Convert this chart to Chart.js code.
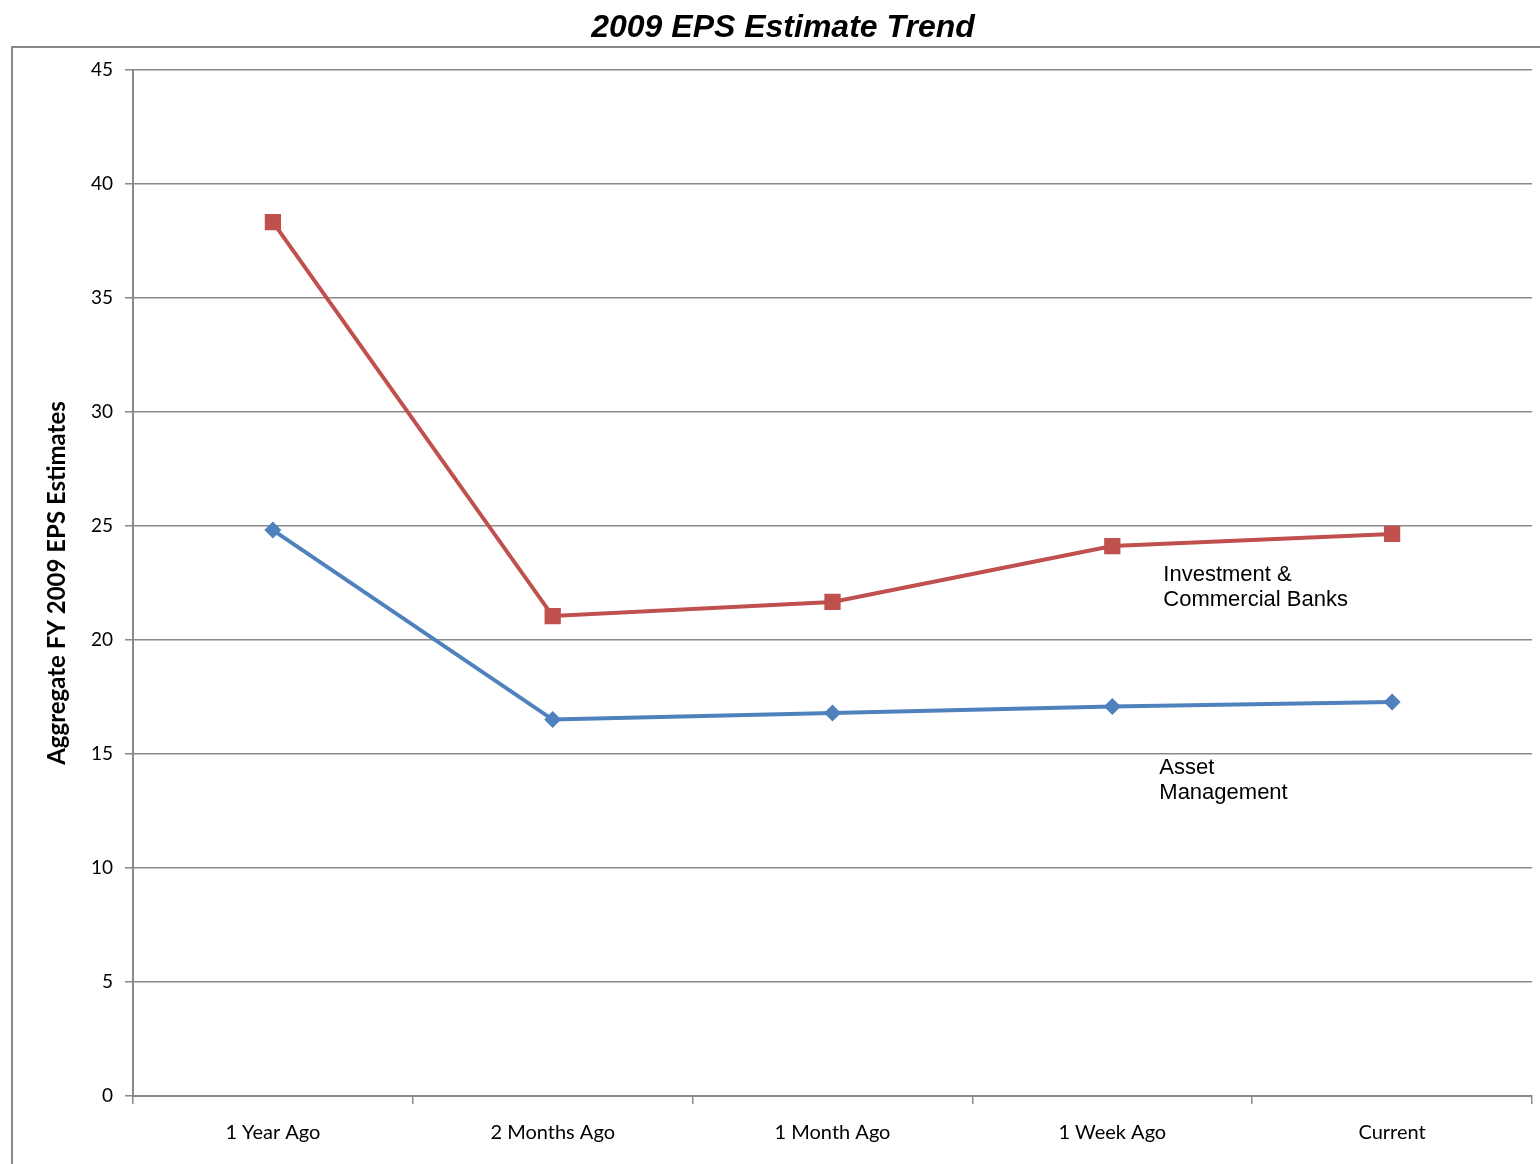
<!DOCTYPE html>
<html lang="en">
<head>
    <meta charset="UTF-8">
    <title>2009 EPS Estimate Trend</title>
    <style>
        html, body { margin: 0; padding: 0; background: #fff; }
        #wrap { width: 1540px; height: 1164px; position: relative; }
    </style>
</head>
<body>
    <div id="wrap">
        <canvas id="epsChart" width="1540" height="1164"></canvas>
    </div>
    <script src="https://cdn.jsdelivr.net/npm/chart.js@4.4.1/dist/chart.umd.min.js"></script>
    <script>
        // chart data
        var periods = ["1 Year Ago", "2 Months Ago", "1 Month Ago", "1 Week Ago", "Current"];
        var bankEps = [38.33, 21.05, 21.67, 24.12, 24.65];
        var assetEps = [24.82, 16.51, 16.8, 17.08, 17.28];
        var yTicks = [0, 5, 10, 15, 20, 25, 30, 35, 40, 45];

        var gridGray = "#898989";

        // title, outer frame and the two series labels
        var decorPlugin = {
            id: "decor",
            beforeDraw: function (chart) {
                var ctx = chart.ctx;
                ctx.save();
                ctx.strokeStyle = gridGray;
                ctx.lineWidth = 2;
                ctx.beginPath();
                ctx.moveTo(12, 1164);
                ctx.lineTo(12, 47);
                ctx.lineTo(1540, 47);
                ctx.stroke();
                ctx.restore();
            },
            afterDraw: function (chart) {
                var ctx = chart.ctx;
                var x = chart.scales.x;
                var y = chart.scales.y;
                ctx.save();
                ctx.fillStyle = "#000";
                ctx.textAlign = "center";
                ctx.textBaseline = "middle";
                ctx.font = "italic bold 32px 'Liberation Sans', Arial, sans-serif";
                ctx.fillText("2009 EPS Estimate Trend", 783, 28);

                ctx.textAlign = "left";
                ctx.font = "22px 'Liberation Sans', Arial, sans-serif";
                var bx = x.getPixelForValue(3) + 51;
                var by = y.getPixelForValue(22.85);
                ctx.fillText("Investment &", bx, by);
                ctx.fillText("Commercial Banks", bx, by + 25);
                var ax = x.getPixelForValue(3) + 47;
                var ay = y.getPixelForValue(14.39);
                ctx.fillText("Asset", ax, ay);
                ctx.fillText("Management", ax, ay + 25);
                ctx.restore();
            }
        };

        var ctx = document.getElementById("epsChart").getContext("2d");
        var epsChart = new Chart(ctx, {
            type: "line",
            data: {
                labels: periods,
                datasets: [
                    {
                        label: "Investment & Commercial Banks",
                        data: bankEps,
                        borderColor: "#C0504D",
                        backgroundColor: "#C0504D",
                        borderWidth: 4,
                        pointStyle: "rect",
                        pointRadius: 11.5,
                        pointHoverRadius: 11.5,
                        pointBorderWidth: 0,
                        tension: 0
                    },
                    {
                        label: "Asset Management",
                        data: assetEps,
                        borderColor: "#4F81BD",
                        backgroundColor: "#4F81BD",
                        borderWidth: 4,
                        pointStyle: "rectRot",
                        pointRadius: 8.5,
                        pointHoverRadius: 8.5,
                        pointBorderWidth: 0,
                        tension: 0
                    }
                ]
            },
            options: {
                responsive: false,
                animation: false,
                layout: { autoPadding: false, padding: { left: 0, top: 70, right: 8, bottom: 0 } },
                plugins: {
                    legend: { display: false },
                    title: { display: false },
                    tooltip: { enabled: false }
                },
                scales: {
                    x: {
                        offset: true,
                        grid: {
                            offset: true,
                            drawOnChartArea: false,
                            drawTicks: true,
                            tickLength: 8,
                            color: gridGray,
                            lineWidth: 1.5
                        },
                        border: { color: gridGray, width: 2 },
                        ticks: {
                            color: "#000",
                            padding: 17,
                            maxRotation: 0,
                            font: { family: "Lato, 'Open Sans', sans-serif", size: 20 }
                        },
                        afterFit: function (scale) { scale.height = 68; }
                    },
                    y: {
                        min: 0,
                        max: 45,
                        afterBuildTicks: function (scale) {
                            scale.ticks = yTicks.map(function (v) { return { value: v }; });
                        },
                        grid: {
                            color: gridGray,
                            lineWidth: 1.5,
                            tickLength: 8
                        },
                        border: { color: gridGray, width: 2 },
                        ticks: {
                            color: "#000",
                            padding: 12,
                            font: { family: "Lato, 'Open Sans', sans-serif", size: 19 }
                        },
                        title: {
                            display: true,
                            text: "Aggregate FY 2009 EPS Estimates",
                            color: "#000",
                            padding: { top: 43, bottom: 0 },
                            font: { family: "Lato, 'Open Sans', sans-serif", size: 24, weight: "bold" }
                        },
                        afterFit: function (scale) { scale.width = 133; }
                    }
                }
            },
            plugins: [decorPlugin]
        });
    </script>
</body>
</html>
